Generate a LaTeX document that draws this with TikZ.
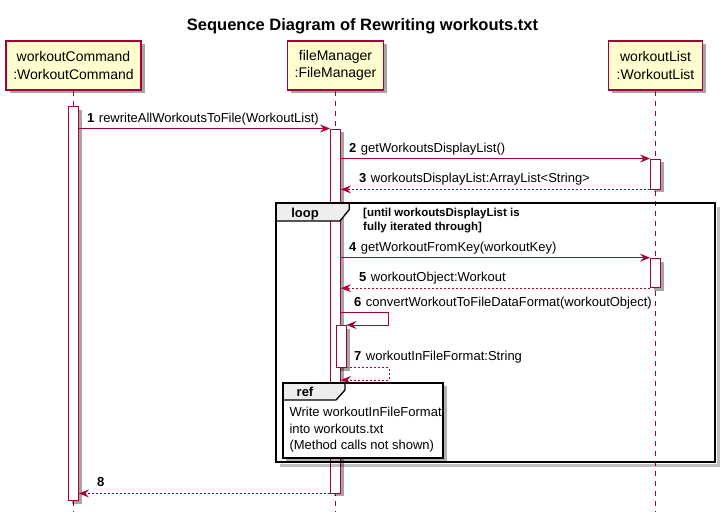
\documentclass[tikz,border=0pt]{standalone}
\usepackage{fontspec}
\setmainfont{Liberation Sans}
\usetikzlibrary{arrows.meta,shadows,calc}
\definecolor{umlred}{HTML}{A80036}
\definecolor{umlfill}{HTML}{FEFECE}
\definecolor{tabfill}{HTML}{EEEEEE}
\tikzset{
  umlshadow/.style={drop shadow={shadow xshift=3.5pt, shadow yshift=-3.5pt, opacity=0.35, fill=black}},
  part/.style={draw=umlred, line width=1.3pt, fill=umlfill, align=center, inner sep=0pt,
    minimum height=49pt, font=\fontsize{14}{17.5}\selectfont, umlshadow},
  lifeline/.style={draw=umlred, line width=0.9pt, dash pattern=on 5pt off 5pt},
  actbar/.style={draw=umlred, line width=0.9pt, fill=white, minimum width=10pt, inner sep=0pt, anchor=north, umlshadow},
  msg/.style={draw=umlred, line width=0.9pt, -{Stealth[length=10pt,width=8pt,inset=3.5pt]}},
  retmsg/.style={msg, dash pattern=on 2pt off 2pt},
  msglabel/.style={anchor=base west, inner sep=0pt, font=\fontsize{13}{15}\selectfont},
  framebox/.style={draw=black, line width=1.8pt},
  tabshape/.style={draw=black, line width=1.3pt, fill=tabfill},
  tablabel/.style={anchor=base, inner sep=0pt, font=\bfseries\fontsize{13}{15}\selectfont},
  frameshadow/.style={draw=black, opacity=0.25, line width=3pt},
}
\newcommand{\num}[1]{\textbf{#1}\hspace{4.5pt}}
\begin{document}
\begin{tikzpicture}[x=1pt,y=-1pt]
\useasboundingbox (0,0) rectangle (727,516);

% title
\node[anchor=base, inner sep=0pt, font=\bfseries\fontsize{16.5}{19}\selectfont] (title) at (362.5,30.5) {Sequence Diagram of Rewriting workouts.txt};

% participants
\node[part, minimum width=135pt] (wc) at (73.5,65.5) {workoutCommand\\:WorkoutCommand};
\node[part, minimum width=96pt] (fm) at (335.5,65.5) {fileManager\\:FileManager};
\node[part, minimum width=94pt] (wl) at (655.5,65.5) {workoutList\\:WorkoutList};

% lifelines
\coordinate (wcEnd) at (73.5,512);
\coordinate (fmEnd) at (335.5,512);
\coordinate (wlEnd) at (655.5,512);
\draw[lifeline] (wc) -- (wcEnd);
\draw[lifeline] (fm) -- (fmEnd);
\draw[lifeline] (wl) -- (wlEnd);

% activation bars
\node[actbar, minimum height=394pt] (a0) at (73.5,106) {};
\node[actbar, minimum height=364pt] (a1) at (335.5,128.5) {};
\node[actbar, minimum height=30pt] (a2) at (655.5,158.5) {};
\node[actbar, minimum height=29.6pt] (a3) at (655.5,257.7) {};
\node[actbar, minimum height=41.7pt] (a4) at (341,325) {};

% messages
\draw[msg] (a0.east |- a1.north west) -- (a1.north west);
\node[msglabel] (l1) at (87,122.5) {\num{1}rewriteAllWorkoutsToFile(WorkoutList)};

\draw[msg] (a1.east |- a2.north west) -- (a2.north west);
\node[msglabel] (l2) at (349,152.5) {\num{2}getWorkoutsDisplayList()};

\draw[retmsg] (a2.south west) -- (a1.east |- a2.south west);
\node[msglabel] (l3) at (359,182.3) {\num{3}workoutsDisplayList:ArrayList<String>};

% loop frame
\coordinate (loopNW) at (276,203.3);
\coordinate (loopSE) at (715,461.7);
\draw[frameshadow] ($(loopNW -| loopSE)+(3.5,4)$) -- ($(loopSE)+(3.5,3.5)$) -- ($(loopNW |- loopSE)+(4,3.5)$);
\draw[framebox] (loopNW) rectangle (loopSE);
\draw[tabshape] (loopNW) -- ++(73.3,0) -- ++(0,6.2) -- ++(-9.3,11.5) -- ($(loopNW)+(0,17.7)$) -- cycle;
\draw[framebox] (loopNW) -- ++(0,17.7);
\draw[framebox] ($(loopNW)-(0.9,0)$) -- ++(75,0);
\node[tablabel] (looplbl) at (305,217) {loop};
\node[anchor=base west, inner sep=0pt, align=left, font=\bfseries\fontsize{11.5}{13.3}\selectfont] (cond) at (363,230) {[until workoutsDisplayList is\\fully iterated through]};

\draw[msg] (a1.east |- a3.north west) -- (a3.north west);
\node[msglabel] (l4) at (349,251.7) {\num{4}getWorkoutFromKey(workoutKey)};

\draw[retmsg] (a3.south west) -- (a1.east |- a3.south west);
\node[msglabel] (l5) at (359,281.3) {\num{5}workoutObject:Workout};

\coordinate (s6) at (388.5,312.7);
\draw[msg] (a1.east |- s6) -- (s6) |- (a4.north east);
\node[msglabel] (l6) at (354,306.7) {\num{6}convertWorkoutToFileDataFormat(workoutObject)};

\coordinate (s7) at (389,380);
\draw[retmsg] (a4.south east) -| (s7) -- (a1.east |- s7);
\node[msglabel] (l7) at (354,360.7) {\num{7}workoutInFileFormat:String};

% ref frame
\coordinate (refNW) at (282.7,382.7);
\coordinate (refSE) at (443.3,458.3);
\path[fill=black, opacity=0.3] ($(refNW)+(3.5,3.5)$) rectangle ($(refSE)+(3.5,3.5)$);
\draw[framebox, fill=white] (refNW) rectangle (refSE);
\draw[tabshape] (refNW) -- ++(62.3,0) -- ++(0,7.3) -- ++(-9,10) -- ($(refNW)+(0,17.3)$) -- cycle;
\draw[framebox] (refNW) rectangle (refSE);
\node[tablabel] (reflbl) at (305,396) {ref};
\node[anchor=base west, inner sep=0pt, align=left, font=\fontsize{13}{16.5}\selectfont] (reftext) at (289.3,449.5) {Write workoutInFileFormat\\into workouts.txt\\(Method calls not shown)};

% final return
\draw[retmsg] (a1.south west) -- (a0.east |- a1.south west);
\node[msglabel] (l8) at (97,486.3) {\textbf{8}};

\end{tikzpicture}
\end{document}
